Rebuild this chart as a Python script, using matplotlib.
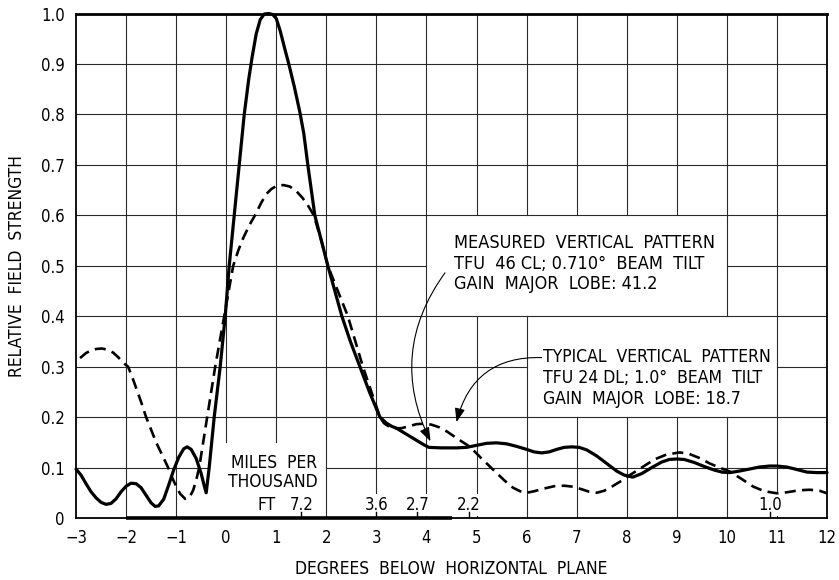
import matplotlib
matplotlib.use("Agg")
import matplotlib.pyplot as plt

plt.rcParams['font.family'] = ['DejaVu Sans']
plt.rcParams['font.stretch'] = 'condensed'

# Measured vertical pattern, TFU-46CL (solid)
measured_deg = [-3.0, -2.9, -2.8, -2.7, -2.6, -2.5, -2.4, -2.3, -2.2, -2.1,
                -2.0, -1.9, -1.8, -1.7, -1.6, -1.5, -1.42, -1.35, -1.25, -1.15,
                -1.05, -0.95, -0.85, -0.78, -0.7, -0.6, -0.5, -0.45, -0.4, -0.34,
                -0.24, -0.12, -0.02, 0.06, 0.16, 0.26, 0.36, 0.45, 0.52, 0.6,
                0.68, 0.76, 0.85, 0.93, 1.0, 1.08, 1.17, 1.25, 1.36, 1.47,
                1.55, 1.63, 1.77, 1.9, 2.03, 2.17, 2.31, 2.48, 2.67, 2.86,
                3.07, 3.2, 3.3, 3.4, 3.6, 3.8, 3.95, 4.05, 4.3, 4.6,
                4.8, 5.0, 5.2, 5.4, 5.6, 5.8, 6.0, 6.15, 6.3, 6.45,
                6.6, 6.75, 6.9, 7.05, 7.2, 7.4, 7.6, 7.8, 7.95, 8.12,
                8.3, 8.5, 8.7, 8.85, 9.0, 9.15, 9.35, 9.55, 9.75, 9.9,
                10.06, 10.25, 10.45, 10.65, 10.85, 11.0, 11.2, 11.4, 11.6, 11.8,
                12.0]
measured_field = [0.097, 0.085, 0.068, 0.052, 0.04, 0.031, 0.027, 0.029, 0.038, 0.052,
                  0.063, 0.069, 0.068, 0.06, 0.045, 0.03, 0.023, 0.024, 0.037, 0.065,
                  0.095, 0.12, 0.137, 0.141, 0.136, 0.118, 0.088, 0.068, 0.05, 0.10,
                  0.20, 0.30, 0.40, 0.50, 0.60, 0.70, 0.80, 0.87, 0.915, 0.96,
                  0.988, 0.999, 1.0, 0.998, 0.99, 0.965, 0.93, 0.90, 0.855, 0.805,
                  0.762, 0.70, 0.60, 0.55, 0.50, 0.45, 0.40, 0.35, 0.30, 0.25,
                  0.20, 0.188, 0.182, 0.178, 0.166, 0.154, 0.145, 0.14, 0.139, 0.139,
                  0.14, 0.144, 0.148, 0.149, 0.147, 0.142, 0.136, 0.131, 0.129, 0.131,
                  0.136, 0.14, 0.141, 0.14, 0.135, 0.123, 0.108, 0.093, 0.085, 0.081,
                  0.088, 0.10, 0.111, 0.116, 0.117, 0.116, 0.11, 0.102, 0.095, 0.091,
                  0.09, 0.093, 0.097, 0.101, 0.103, 0.103, 0.101, 0.096, 0.091, 0.09,
                  0.09]

# Typical vertical pattern, TFU-24DL (dashed)
typical_deg = [-2.92, -2.8, -2.7, -2.6, -2.49, -2.38, -2.26, -2.15, -2.05, -1.96,
               -1.88, -1.8, -1.7, -1.6, -1.5, -1.4, -1.28, -1.16, -1.08, -1.0,
               -0.92, -0.82, -0.74, -0.66, -0.6, -0.54, -0.46, -0.38, -0.3, -0.22,
               -0.13, -0.04, 0.05, 0.14, 0.24, 0.34, 0.46, 0.575, 0.7, 0.8,
               0.9, 1.0, 1.14, 1.27, 1.4, 1.52, 1.63, 1.75, 1.9, 2.03,
               2.23, 2.43, 2.58, 2.73, 2.9, 3.07, 3.15, 3.24, 3.35, 3.5,
               3.65, 3.8, 3.96, 4.1, 4.25, 4.4, 4.55, 4.7, 4.87, 5.1,
               5.34, 5.55, 5.73, 5.87, 6.0, 6.15, 6.33, 6.55, 6.75, 6.93,
               7.1, 7.25, 7.4, 7.55, 7.7, 7.9, 8.06, 8.3, 8.55, 8.8,
               9.06, 9.25, 9.45, 9.66, 9.85, 10.06, 10.3, 10.53, 10.75, 11.0,
               11.2, 11.45, 11.66, 11.85, 12.0]
typical_field = [0.317, 0.327, 0.332, 0.335, 0.336, 0.334, 0.328, 0.318, 0.307, 0.30,
                 0.28, 0.258, 0.23, 0.20, 0.175, 0.15, 0.125, 0.10, 0.08, 0.063,
                 0.048, 0.038, 0.04, 0.055, 0.075, 0.10, 0.15, 0.20, 0.25, 0.30,
                 0.35, 0.40, 0.45, 0.50, 0.53, 0.555, 0.58, 0.60, 0.625, 0.642,
                 0.652, 0.658, 0.66, 0.657, 0.648, 0.635, 0.62, 0.60, 0.55, 0.50,
                 0.45, 0.40, 0.35, 0.30, 0.25, 0.20, 0.188, 0.182, 0.178, 0.178,
                 0.182, 0.186, 0.187, 0.185, 0.18, 0.172, 0.162, 0.152, 0.141, 0.118,
                 0.095, 0.075, 0.06, 0.053, 0.05, 0.053, 0.058, 0.063, 0.064, 0.062,
                 0.057, 0.052, 0.05, 0.054, 0.062, 0.074, 0.085, 0.10, 0.116, 0.126,
                 0.13, 0.127, 0.119, 0.108, 0.10, 0.092, 0.077, 0.062, 0.053, 0.049,
                 0.051, 0.055, 0.056, 0.054, 0.049]

# Distance scale: miles per thousand feet of drop, placed along the degree axis
miles_labels = ['7.2', '3.6', '2.7', '2.2', '1.0']
miles_deg = [1.5, 3.0, 3.82, 4.85, 10.87]

x_ticks = list(range(-3, 13))
y_ticks = [i / 10 for i in range(11)]
y_tick_labels = ['0'] + ['%.1f' % v for v in y_ticks[1:]]

fig = plt.figure(figsize=(8.39, 5.8), dpi=100)
ax = fig.add_axes([0.0906, 0.1069, 0.8951, 0.8698])
ax.set_xlim(-3, 12)
ax.set_ylim(0, 1.0)

# grid drawn as segments so the lettered panels stay clear
blank = [(4, 10, 0.4, 0.6), (6, 11, 0.2, 0.4), (-0.37, 2, 0.0, 0.15)]
gkw = dict(color='#2a2a2a', lw=0.8, zorder=1)
for gx in x_ticks[1:-1]:
    cuts = sorted((y0, y1) for (x0, x1, y0, y1) in blank if x0 < gx < x1)
    start = 0.0
    for y0, y1 in cuts:
        if y0 > start:
            ax.plot([gx, gx], [start, y0], **gkw)
        start = max(start, y1)
    if start < 1.0:
        ax.plot([gx, gx], [start, 1.0], **gkw)
for gy in y_ticks[1:-1]:
    cuts = sorted((x0, x1) for (x0, x1, y0, y1) in blank if y0 < gy < y1)
    start = -3.0
    for x0, x1 in cuts:
        if x0 > start:
            ax.plot([start, x0], [gy, gy], **gkw)
        start = max(start, x1)
    if start < 12:
        ax.plot([start, 12], [gy, gy], **gkw)

# curves
ax.plot(measured_deg, measured_field, color='black', lw=2.3,
        solid_joinstyle='round', solid_capstyle='round', zorder=4, clip_on=False)
ax.plot(typical_deg, typical_field, color='black', lw=1.9,
        dashes=(4.2, 2.4), zorder=4, clip_on=False)

# frame
for side in ['left', 'bottom', 'right']:
    ax.spines[side].set_linewidth(1.3)
ax.spines['top'].set_linewidth(2.0)
ax.hlines(0, -2, 4.5, color='black', lw=2.6, zorder=5, clip_on=False)

ax.set_xticks(x_ticks)
ax.set_yticks(y_ticks)
ax.set_yticklabels(y_tick_labels)
ax.tick_params(length=0, labelsize=12, pad=8)

ax.set_ylabel('RELATIVE  FIELD  STRENGTH', fontsize=12.5, labelpad=11)
ax.set_xlabel('DEGREES  BELOW  HORIZONTAL  PLANE', fontsize=12.5, labelpad=9)

# distance scale
for lab, d in zip(miles_labels, miles_deg):
    ax.plot([d, d], [0, 0.012], color='black', lw=1.0, zorder=5)
    ax.text(d, 0.026, lab, ha='center', va='center', fontsize=12, zorder=3,
            bbox=dict(boxstyle='square,pad=0.1', fc='white', ec='none'))
ax.text(1.82, 0.127, 'MILES  PER\nTHOUSAND', ha='right', va='top',
        fontsize=12.5, multialignment='right', linespacing=1.1, zorder=3)
ax.text(0.8, 0.026, 'FT', ha='center', va='center', fontsize=12.5, zorder=3)

# pattern notes
ax.text(4.55, 0.562, 'MEASURED  VERTICAL  PATTERN\nTFU  46 CL; 0.710°  BEAM  TILT\nGAIN  MAJOR  LOBE: 41.2',
        ha='left', va='top', fontsize=13, linespacing=1.15, zorder=3)
ax.text(6.33, 0.337, 'TYPICAL  VERTICAL  PATTERN\nTFU 24 DL; 1.0°  BEAM  TILT\nGAIN  MAJOR  LOBE: 18.7',
        ha='left', va='top', fontsize=12.6, linespacing=1.2, zorder=3)

arrow = dict(arrowstyle='-|>,head_length=0.6,head_width=0.22', color='black', lw=0.8,
             shrinkA=0, shrinkB=0, mutation_scale=14)
ax.annotate('', xy=(4.08, 0.152), xytext=(4.37, 0.486),
            arrowprops=dict(connectionstyle='arc3,rad=0.3', **arrow), zorder=5)
ax.annotate('', xy=(4.6, 0.19), xytext=(6.3, 0.318),
            arrowprops=dict(connectionstyle='arc3,rad=0.4', **arrow), zorder=5)

fig.savefig('out.png', dpi=100)
